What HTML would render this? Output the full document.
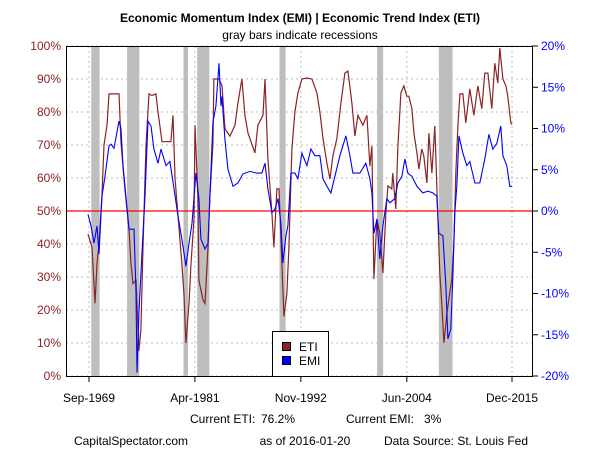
<!DOCTYPE html>
<html><head><meta charset="utf-8"><style>
body{margin:0;background:#fff;width:600px;height:450px;overflow:hidden}
svg{font-family:"Liberation Sans",Arial,sans-serif}
</style></head><body>
<svg id="chart" width="600" height="450" viewBox="0 0 600 450">
<rect width="600" height="450" fill="#fff"/>
<text x="300" y="22" text-anchor="middle" font-size="12" font-weight="bold">Economic Momentum Index (EMI) | Economic Trend Index (ETI)</text>
<text x="300" y="39" text-anchor="middle" font-size="12">gray bars indicate recessions</text>
<g id="rec"></g><g id="grid"></g><g id="series"></g><g id="axes"></g>
<g>
<rect x="272.5" y="331.5" width="56" height="45" fill="#fff" stroke="#000"/>
<rect x="282.5" y="342.5" width="8" height="8" fill="#8B2323" stroke="#000"/>
<text x="299" y="351" font-size="12">ETI</text>
<rect x="282.5" y="356.5" width="8" height="8" fill="#0000ff" stroke="#000"/>
<text x="299" y="365" font-size="12">EMI</text>
</g>
<text x="190" y="423" font-size="12">Current ETI:</text>
<text x="261" y="423" font-size="12">76.2%</text>
<text x="346" y="423" font-size="12">Current EMI:</text>
<text x="424" y="423" font-size="12">3%</text>
<text x="131" y="445" text-anchor="middle" font-size="12">CapitalSpectator.com</text>
<text x="305" y="445" text-anchor="middle" font-size="12">as of 2016-01-20</text>
<text x="456" y="445" text-anchor="middle" font-size="12">Data Source: St. Louis Fed</text>
</svg>
<script>
const xTickLabels=["Sep-1969","Apr-1981","Nov-1992","Jun-2004","Dec-2015"];
const xTickYears=[1969.67,1981.25,1992.83,2004.42,2015.92];
const etiTicks=[0,10,20,30,40,50,60,70,80,90,100];
const emiTicks=[-20,-15,-10,-5,0,5,10,15,20];
const recStart=[1969.92,1973.83,1980.0,1981.5,1990.5,2001.17,2007.92];
const recEnd=[1970.83,1975.17,1980.5,1982.83,1991.17,2001.83,2009.42];
const etiYears=[
1969.56,1970.0,1970.33,1970.54,1970.76,1971.09,1971.31,1971.64,1971.86,1972.95,
1973.17,1973.6,1974.04,1974.26,1974.48,1974.81,1975.13,1975.35,1975.57,1975.9,
1976.23,1976.56,1976.99,1977.21,1977.65,1978.63,1978.85,1979.07,1979.4,1979.83,
1980.05,1980.27,1980.6,1980.82,1981.15,1981.26,1981.58,1981.69,1982.13,1982.35,
1982.68,1982.89,1983.22,1983.33,1983.88,1984.21,1984.53,1985.08,1985.63,1985.95,
1986.39,1986.72,1987.05,1987.81,1988.14,1988.69,1988.91,1989.23,1989.67,1989.89,
1990.22,1990.44,1990.76,1990.98,1991.31,1991.53,1991.86,1992.18,1992.51,1992.95,
1993.5,1994.04,1994.59,1994.92,1995.25,1995.68,1996.01,1996.34,1996.77,1997.21,
1997.65,1997.98,1998.41,1998.74,1999.07,1999.62,2000.05,2000.38,2000.6,2000.82,
2001.15,2001.47,2001.8,2002.13,2002.35,2002.78,2002.89,2003.22,2003.44,2003.77,
2004.1,2004.42,2004.64,2004.97,2005.19,2005.52,2005.74,2006.06,2006.28,2006.61,
2006.83,2007.16,2007.48,2007.7,2008.03,2008.25,2008.47,2008.8,2009.02,2009.34,
2009.56,2009.78,2010.0,2010.22,2010.55,2010.87,2011.09,2011.31,2011.75,2012.18,
2012.62,2012.95,2013.28,2013.71,2014.04,2014.37,2014.59,2014.92,2015.25,2015.46,
2015.79,2015.92];
const etiValues=[
43,39,22,34,40,55,70,76,85.5,85.5,
70.6,56.7,44.5,34,28,29,7.6,14,39,70,
85.5,85,85.5,80,71,71,79,60,48.5,34,
25,10,22,34,47.6,76,54.5,29,23,22,
39,54.5,70,90,90,88,75,72.7,76,82.7,
90,79,73.6,67.6,76,79,90,65.8,49.4,39,
56.7,56.7,34,18,25,39,68.8,80,85.8,90,
90.3,90,85.8,80,72,64.5,59.7,66.7,72,82.7,
91.8,92.4,82.7,72.7,79,76,79,63.6,69.7,29.4,
47.6,43.3,31.2,49.4,57.6,56.7,61.5,50.6,69.7,85.8,
87.9,84.8,84.8,81,73.6,67.6,62.7,68.8,66.7,58.5,
73.6,61.5,75.8,57.6,31.2,21.2,10,19,23.3,29.4,
39.4,61.5,75.8,85.5,85.5,76.7,81.8,87,79,87.9,
81,91.8,91.8,81,94.8,88.8,99.4,90,87.9,84.8,
76.7,76.2];
const emiYears=[
1969.56,1969.89,1970.22,1970.54,1970.76,1971.09,1971.42,1971.86,1972.07,1972.4,
1972.95,1973.17,1973.39,1973.71,1974.04,1974.59,1974.81,1974.92,1975.13,1975.46,
1975.79,1976.12,1976.45,1976.77,1977.21,1977.54,1978.09,1978.52,1978.96,1979.4,
1979.94,1980.27,1980.6,1980.93,1981.36,1981.69,1981.91,1982.35,1982.68,1982.89,
1983.22,1983.55,1983.88,1984.1,1984.21,1984.53,1984.86,1985.41,1985.95,1986.5,
1987.27,1988.03,1988.58,1988.91,1989.23,1989.67,1990.0,1990.33,1990.65,1990.87,
1991.2,1991.42,1991.75,1992.18,1992.51,1992.95,1993.5,1993.93,1994.37,1994.92,
1995.25,1995.68,1996.12,1996.56,1997.1,1997.43,1997.76,1998.2,1998.52,1999.29,
1999.94,2000.38,2000.6,2000.82,2001.15,2001.47,2001.8,2002.24,2002.57,2003.11,
2003.44,2003.88,2004.21,2004.53,2004.97,2005.52,2006.17,2006.72,2007.27,2007.7,
2007.92,2008.36,2008.69,2008.91,2009.23,2009.45,2009.67,2009.89,2010.11,2010.55,
2010.98,2011.31,2011.86,2012.4,2012.95,2013.39,2013.82,2014.26,2014.7,2014.92,
2015.35,2015.68,2015.92];
const emiValues=[
-0.4,-1.8,-3.9,-1.8,-5.2,1.8,4.2,7.9,8.1,7.6,
10.9,10,5.5,1.8,-2.2,-2.2,-9.9,-19.6,-12.4,-5,
1.8,10.9,10.3,7.5,5.8,7.5,5.5,6,2.7,-0.6,
-4.2,-6.7,-3.9,-1.5,4.6,1.5,-3.4,-4.6,-3.9,1.8,
10.7,12.7,17.9,12.7,13.9,8.7,5.1,3,3.4,4.5,
4.8,4.6,4.6,5.8,2.7,-0.2,0.2,1.5,-1.5,-6.3,
-3,-1.8,4.6,4.6,3.9,7,5.5,7.5,6.7,6.7,
3.9,3,2.2,4.2,6.7,7.9,9.1,6.7,4.6,4.6,
5.8,3.9,2.2,-2.7,-1,-5.8,-1.8,1.5,1,1.5,
3.4,4.2,6.3,4.6,4.2,3,2.2,2.4,2.2,1.8,
-2.7,-3,-9.1,-15.5,-14.3,-8.2,-0.2,3,9.1,7,
5.5,6,3.4,3.4,6.3,9.3,7.5,8.2,10.3,6.7,
5.5,3,3];

const NS="http://www.w3.org/2000/svg";
const L=66,R=532,T=46,B=376;
const xs=y=>89+(y-1969.67)*(512-89)/(2015.92-1969.67);
const yEti=v=>B-(v/100)*(B-T);
const yEmi=v=>B-((v+20)/40)*(B-T);
function mk(tag,attrs,parent){const e=document.createElementNS(NS,tag);for(const k in attrs)e.setAttribute(k,attrs[k]);parent.appendChild(e);return e;}
const gRec=document.getElementById('rec'),gGrid=document.getElementById('grid'),gS=document.getElementById('series'),gA=document.getElementById('axes');
recStart.forEach((s,i)=>{const r=mk('rect',{x:xs(s),y:T,width:xs(recEnd[i])-xs(s),height:B-T,fill:'#bebebe'},gRec);

});
etiTicks.forEach(v=>{const y=yEti(v);
const l=mk('line',{x1:L,x2:R,y1:y,y2:y,stroke:'#bdbdbd','stroke-dasharray':'2,3'},gGrid);


const t=mk('text',{x:L-5,y:y+4,'text-anchor':'end','font-size':12,fill:'#8B2323'},gA);t.textContent=v+'%';

});
emiTicks.forEach(v=>{const y=yEmi(v);
mk('line',{x1:R,x2:R+6,y1:y,y2:y,stroke:'#000'},gA);
const t=mk('text',{x:R+9,y:y+4,'font-size':12,fill:'#0000ff'},gA);t.textContent=v+'%';

});
xTickYears.forEach((yr,i)=>{const x=xs(yr);
const l=mk('line',{x1:x,x2:x,y1:T,y2:B,stroke:'#bdbdbd','stroke-dasharray':'2,3'},gGrid);


mk('line',{x1:x,x2:x,y1:B,y2:B+6,stroke:'#000'},gA);
const t=mk('text',{x:x,y:402,'text-anchor':'middle','font-size':12},gA);t.textContent=xTickLabels[i];

});
const zl=mk('line',{x1:L,x2:R,y1:yEmi(0),y2:yEmi(0),stroke:'#ff0000','stroke-width':1.3},gS);


function linePath(xv,yv,fy){return xv.map((x,i)=>(i?'L':'M')+xs(x).toFixed(1)+','+fy(yv[i]).toFixed(1)).join(' ');}
const pe=mk('path',{d:linePath(etiYears,etiValues,yEti),fill:'none',stroke:'#8B2323','stroke-width':1.2},gS);


const pm=mk('path',{d:linePath(emiYears,emiValues,yEmi),fill:'none',stroke:'#0000ff','stroke-width':1.1},gS);


const box=mk('rect',{x:L+.5,y:T+.5,width:R-L,height:B-T,fill:'none',stroke:'#000'},gA);


</script>
</body></html>
